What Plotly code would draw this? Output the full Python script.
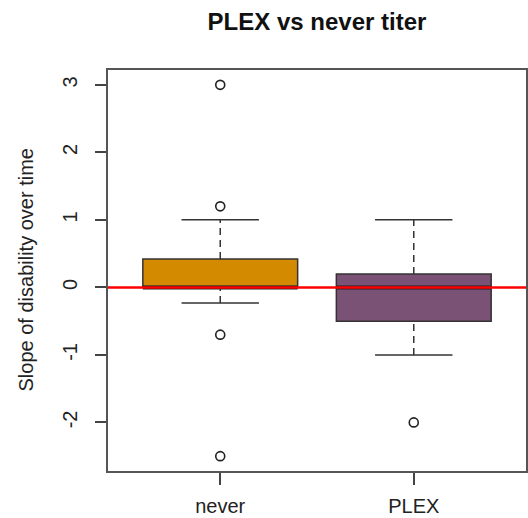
import plotly.graph_objects as go

categories = ["never", "PLEX"]
q1 = [0.0, -0.5]
median = [0.0, 0.0]
q3 = [0.42, 0.2]
lower_whisker = [-0.23, -1.0]
upper_whisker = [1.0, 1.0]
outliers = [[3.0, 1.2, -0.7, -2.5], [-2.0]]
ref_line = 0.0
y_ticks = [-2, -1, 0, 1, 2, 3]
y_tick_labels = ["-2", "-1", "0", "1", "2", "3"]
fills = ["#D48A00", "#7A5276"]

positions = [1, 2]
box_w = 0.8
cap_w = 0.4
edge = "#333333"
font_family = "Liberation Sans, Arial, sans-serif"

fig = go.Figure()

for i, cat in enumerate(categories):
    x = positions[i]
    # box (whiskers drawn separately so they can be dashed)
    fig.add_trace(go.Box(
        x=[x], q1=[q1[i]], median=[median[i]], q3=[q3[i]],
        lowerfence=[q1[i]], upperfence=[q3[i]],
        width=box_w, fillcolor=fills[i],
        line=dict(color=edge, width=1.5),
        boxpoints=False, whiskerwidth=0, showlegend=False, hoverinfo="skip",
    ))
    # thick median
    fig.add_trace(go.Scatter(
        x=[x - box_w / 2, x + box_w / 2], y=[median[i], median[i]],
        mode="lines", line=dict(color="#222222", width=4),
        showlegend=False, hoverinfo="skip",
    ))
    # dashed whiskers
    for lo, hi in [(q3[i], upper_whisker[i]), (lower_whisker[i], q1[i])]:
        fig.add_trace(go.Scatter(
            x=[x, x], y=[lo, hi], mode="lines",
            line=dict(color=edge, width=1.5, dash="7px,5px"),
            showlegend=False, hoverinfo="skip",
        ))
    # caps
    for v in [upper_whisker[i], lower_whisker[i]]:
        fig.add_trace(go.Scatter(
            x=[x - cap_w / 2, x + cap_w / 2], y=[v, v], mode="lines",
            line=dict(color=edge, width=1.5),
            showlegend=False, hoverinfo="skip",
        ))
    # outliers
    fig.add_trace(go.Scatter(
        x=[x] * len(outliers[i]), y=outliers[i], mode="markers",
        marker=dict(symbol="circle-open", size=9, color="#222222",
                    line=dict(width=1.6, color="#222222")),
        showlegend=False, hoverinfo="skip",
    ))

# reference line drawn above the boxes
fig.add_shape(type="line", xref="paper", yref="y", x0=0, x1=1,
              y0=ref_line, y1=ref_line, line=dict(color="#FF0000", width=2.5),
              layer="above")

fig.update_layout(
    width=528, height=518,
    margin=dict(l=108, r=2, t=70, b=47, autoexpand=False),
    paper_bgcolor="white", plot_bgcolor="white",
    font=dict(family=font_family, size=20, color="#222222"),
    title=dict(text="<b>PLEX vs never titer</b>", x=0.5, xref="paper",
               y=1 - 22 / 518, yref="container", yanchor="middle", xanchor="center",
               font=dict(size=24, color="#111111", family=font_family)),
    xaxis=dict(range=[0.42, 2.58], tickvals=positions, ticktext=categories,
               showgrid=False, zeroline=False, ticks="outside", ticklen=12,
               tickwidth=1.5, tickcolor="#444444", showline=True, mirror=True,
               linecolor="#555555", linewidth=1.5, ticklabelstandoff=4,
               automargin=False),
    yaxis=dict(range=[-2.72, 3.22], tickvals=y_ticks, ticktext=y_tick_labels,
               tickangle=-90,
               showgrid=False, zeroline=False, ticks="outside", ticklen=11,
               tickwidth=1.5, tickcolor="#444444", showline=True, mirror=True,
               linecolor="#555555", linewidth=1.5, ticklabelstandoff=10,
               automargin=False),
    annotations=[dict(text="Slope of disability over time", xref="paper", yref="paper",
                      x=(25 - 108) / 418, y=0.5, xanchor="center", yanchor="middle",
                      textangle=-90, showarrow=False,
                      font=dict(size=20, color="#222222", family=font_family))],
)

fig.write_html("out.html")
